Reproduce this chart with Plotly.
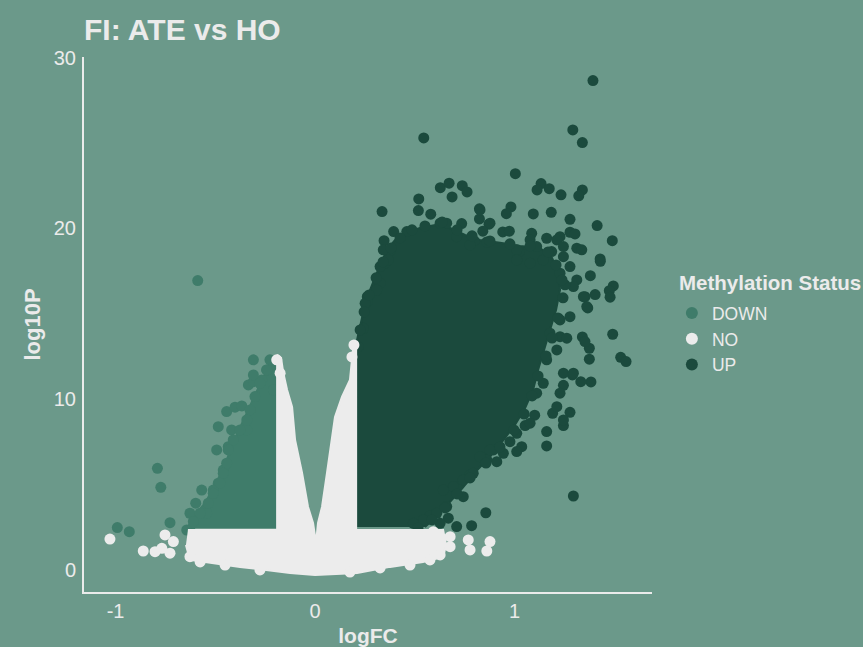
import plotly.graph_objects as go

# ---------------- data (data units) ----------------
# Individual UP points (logFC, log10P)
up_x = [1.393, 1.292, 1.340, 0.545, 1.004, 1.133, 1.174, 1.113, 1.233, 1.340, 1.322, 0.628, 0.672,
        0.738, 0.762, 0.687, 0.520, 0.518, 0.336, 0.824, 0.824, 0.982, 0.959, 1.094, 1.184, 1.278,
        1.414, 1.490, 0.735, 0.872, 0.841, 0.580, 0.394, 0.346, 0.376, 0.941, 0.974, 0.797, 0.861,
        1.086, 1.161, 1.228, 1.278, 1.303, 1.312, 1.337, 1.186, 1.429, 1.023, 1.430, 1.380, 1.495,
        1.475, 1.479, 1.404, 1.353, 1.367, 1.492, 1.532, 1.559, 1.375, 1.375, 1.340, 1.353, 1.383,
        1.332, 1.290, 1.245, 1.228, 1.278, 1.245, 1.191, 1.161, 1.161, 1.295, 1.101, 1.053, 1.036,
        1.011, 0.977, 0.911, 0.861, 0.827, 0.856, 0.785, 0.777, 0.743, 0.693, 0.643, 0.668, 0.576,
        0.627, 0.351, 0.326, 0.262, 0.262, 0.242, 0.894,
        1.245, 1.278, 1.228, 1.312, 1.295, 1.253, 1.362, 1.345, 1.278, 1.228, 1.178, 1.228, 1.262,
        1.212, 1.161, 1.245, 1.295, 1.144, 1.111, 1.212, 1.245, 1.078, 1.011, 0.944, 0.877, 0.793,
        0.743, 0.660, 0.610, 0.543, 0.493, 0.710, 0.460, 0.627, 0.660, 0.710, 0.777, 0.827, 0.877,
        1.011, 1.078, 1.111, 1.212, 1.245, 1.144, 1.078, 1.011, 0.309, 0.251, 0.217, 0.342, 0.367,
        0.326,
        0.226, 0.246, 0.271, 0.306, 0.341, 0.381, 0.426, 0.486, 0.551, 0.637, 0.712, 0.787, 0.877,
        0.977, 1.078, 1.168, 1.208, 1.238, 1.243, 1.218, 1.188, 1.158, 1.118, 1.088, 1.048, 0.997,
        0.927, 0.857, 0.777, 0.712, 0.652, 0.586, 0.516]
up_y = [28.65, 25.76, 25.02, 25.29, 23.20, 22.62, 22.32, 22.25, 21.96, 22.25, 21.90, 22.38, 22.64,
        22.50, 22.13, 21.84, 21.72, 21.04, 20.98, 21.14, 20.55, 21.25, 20.86, 20.84, 20.94, 20.53,
        20.16, 19.28, 20.28, 20.24, 19.83, 20.83, 19.81, 19.28, 18.68, 19.79, 19.83, 19.28, 19.20,
        19.71, 19.42, 19.51, 19.77, 19.67, 18.84, 18.74, 18.64, 18.21, 18.64, 18.07, 17.23, 16.63,
        16.35, 15.97, 16.12, 16.00, 15.34, 13.80, 12.45, 12.20, 12.34, 12.98, 13.64, 13.37, 11.01,
        11.02, 11.42, 10.81, 10.35, 9.23, 8.45, 9.17, 8.10, 7.26, 4.33, 9.06, 8.45, 7.22,
        6.93, 7.51, 6.34, 6.44, 6.63, 3.35, 2.59, 5.56, 4.29, 4.88, 4.68, 3.03, 3.16,
        2.73, 17.96, 16.79, 16.00, 15.71, 14.15, 7.03,
        18.34, 17.76, 17.37, 16.98, 16.59, 16.69, 15.42, 16.00, 14.83, 14.64, 13.86, 13.66, 13.57,
        12.88, 12.30, 11.52, 11.52, 10.93, 10.35, 9.56, 8.78, 8.59, 8.00, 6.83, 7.03, 5.66,
        5.27, 3.71, 3.32, 2.93, 2.73, 2.54, 19.81, 20.30, 20.30, 19.51, 19.03, 21.08, 20.30,
        18.74, 19.32, 18.93, 19.32, 18.93, 18.15, 17.96, 18.15, 16.39, 15.61, 13.07, 18.74, 18.15,
        17.76,
        14.05, 15.11, 16.10, 17.10, 18.03, 18.85, 19.44, 19.91, 20.14, 20.37, 19.91, 19.56, 19.26,
        19.09, 18.97, 18.62, 17.86, 16.98, 15.93, 14.75, 13.58, 12.53, 11.36, 10.19, 9.13, 8.20,
        7.20, 6.26, 5.39, 4.45, 3.63, 2.93, 2.46]

# Outline of the densely packed UP cloud
up_core_x = [0.200, 0.200, 0.216, 0.236, 0.256, 0.286, 0.326, 0.361, 0.401, 0.451, 0.526, 0.602,
             0.677, 0.752, 0.827, 0.927, 1.028, 1.128, 1.188, 1.218, 1.228, 1.208, 1.178, 1.148,
             1.118, 1.093, 1.053, 1.005, 0.945, 0.880, 0.805, 0.740, 0.677, 0.617, 0.551]
up_core_y = [2.52, 12.88, 13.76, 14.75, 15.81, 16.69, 17.86, 18.74, 19.32, 19.73, 20.02, 20.20,
             20.02, 19.61, 19.32, 19.15, 18.97, 18.85, 18.27, 17.45, 16.39, 15.22, 14.05, 12.88,
             11.71, 10.54, 9.48, 8.55, 7.61, 6.67, 5.74, 4.80, 3.98, 3.22, 2.52]

# Individual DOWN points
down_x = [-0.309, -0.226, -0.334, -0.309, -0.267, -0.443, -0.401, -0.367, -0.485, -0.493, -0.418,
          -0.342, -0.790, -0.773, -0.568, -0.485, -0.598, -0.627, -0.543, -0.727, -0.991, -0.931,
          -0.627, -0.588, -0.460, -0.510, -0.435, -0.309, -0.242, -0.209,
          -0.242, -0.276, -0.301, -0.326, -0.342, -0.376, -0.410, -0.435, -0.443, -0.460, -0.476,
          -0.510, -0.535, -0.576, -0.610, -0.643]
down_y = [12.30, 12.30, 10.83, 11.02, 11.12, 9.27, 9.53, 9.60, 8.39, 7.03, 8.20,
          8.20, 5.95, 4.84, 4.68, 5.08, 3.91, 3.32, 3.32, 2.77, 2.48, 2.24,
          2.34, 16.94, 5.85, 4.68, 7.22, 11.42, 11.71, 10.54,
          11.71, 10.93, 10.15, 9.37, 8.78, 8.20, 7.61, 7.03, 6.25, 5.66, 5.08,
          4.49, 3.91, 3.32, 2.83, 2.34]

# Outline of the densely packed DOWN cloud
down_core_x = [-0.190, -0.236, -0.266, -0.301, -0.336, -0.376, -0.416, -0.451, -0.501, -0.551,
               -0.602, -0.637, -0.190]
down_core_y = [12.59, 11.83, 11.12, 10.25, 9.37, 8.31, 7.32, 6.15, 4.98, 3.92, 3.22, 2.52, 2.52]

# Individual NO points
no_x = [-1.028, -0.861, -0.802, -0.752, -0.710, -0.727, -0.768, 0.768, 0.777, 0.877, 0.861, 0.677,
        0.677, 0.593, -0.627, -0.192, -0.175, 0.195, 0.185, -0.576, -0.451, -0.276, 0.175, 0.326,
        0.476, 0.576, 0.627]
no_y = [1.81, 1.11, 1.07, 2.05, 1.66, 0.98, 1.27, 1.76, 1.17, 1.66, 1.11, 1.95,
        1.36, 2.24, 0.78, 12.30, 11.52, 13.17, 12.47, 0.47, 0.29, 0.00, -0.12, 0.12,
        0.29, 0.59, 0.88]

# Outline of the densely packed NO band with its two spikes
no_core_x = [-0.637, -0.190, -0.190, -0.170, -0.160, -0.140, -0.115, -0.100, -0.065, -0.035, -0.010,
             0.005, 0.015, 0.035, 0.060, 0.085, 0.100, 0.135, 0.175, 0.185, 0.195, 0.206, 0.206,
             0.642, 0.657, 0.642, 0.541, 0.376, 0.211, 0.000, -0.125, -0.376, -0.526, -0.627, -0.647]
no_core_y = [2.34, 2.34, 12.59, 12.41, 11.59, 10.54, 9.54, 7.61, 5.68, 3.69, 2.75,
             1.58, 2.75, 3.69, 5.68, 7.61, 8.96, 10.13, 11.12, 12.30, 13.35, 13.35, 2.34,
             2.34, 1.46, 0.76, 0.47, 0.18, -0.18, -0.29, -0.18, 0.18, 0.41, 0.59, 1.46]

x_ticks = [-1, 0, 1]
y_ticks = [0, 10, 20, 30]

# ---------------- styling ----------------
BG = "#6b998a"
TXT = "#ebebeb"
C_DOWN = "#3f7c6a"
C_NO = "#ececec"
C_UP = "#1b4a3d"
FONT = "Liberation Sans, Arial, sans-serif"
MS = 11

fig = go.Figure()


def add_core(xs, ys, color):
    fig.add_trace(go.Scatter(x=xs, y=ys, mode="lines", fill="toself", fillcolor=color,
                             line=dict(color=color, width=2), hoverinfo="skip", showlegend=False))


def add_pts(xs, ys, color, name, rank):
    fig.add_trace(go.Scatter(x=xs, y=ys, mode="markers", name=name, legendrank=rank,
                             marker=dict(color=color, size=MS, line=dict(width=0))))


add_core(down_core_x, down_core_y, C_DOWN)
add_pts(down_x, down_y, C_DOWN, "DOWN", 1)
add_core(up_core_x, up_core_y, C_UP)
add_pts(up_x, up_y, C_UP, "UP", 3)
add_core(no_core_x, no_core_y, C_NO)
add_pts(no_x, no_y, C_NO, "NO", 2)

fig.update_layout(
    template="none",
    width=863, height=647,
    paper_bgcolor=BG, plot_bgcolor=BG,
    margin=dict(l=84, r=211, t=57, b=55, autoexpand=False),
    font=dict(family=FONT, color=TXT),
    title=dict(text="<b>FI: ATE vs HO</b>", font=dict(size=30, color=TXT, family=FONT),
               x=84 / 863, xref="container", xanchor="left",
               y=1 - 29 / 647, yref="container", yanchor="middle"),
    showlegend=True,
    legend=dict(font=dict(size=17.5, color=TXT),
                x=1.035, xanchor="left", y=0.555, yanchor="top",
                bgcolor="rgba(0,0,0,0)", borderwidth=0, itemsizing="constant"),
    annotations=[dict(text="<b>Methylation Status</b>", xref="paper", yref="paper",
                      x=(677 - 84) / 568, y=(592 - 282) / 535, xanchor="left", yanchor="middle",
                      showarrow=False, font=dict(size=20.5, color=TXT, family=FONT))],
    xaxis=dict(range=[-1.158, 1.689], showgrid=False, zeroline=False, showline=True,
               linecolor=TXT, linewidth=2, tickmode="array", tickvals=x_ticks,
               ticktext=[str(v) for v in x_ticks], ticks="outside", ticklen=0,
               tickcolor="rgba(0,0,0,0)", tickfont=dict(size=20, color=TXT),
               title=dict(text="<b>logFC</b>", font=dict(size=21, color=TXT), standoff=9),
               automargin=False),
    yaxis=dict(range=[-1.29, 30.03], showgrid=False, zeroline=False, showline=True,
               linecolor=TXT, linewidth=2, tickmode="array", tickvals=y_ticks,
               ticktext=[str(v) for v in y_ticks], ticks="outside", ticklen=2,
               tickcolor="rgba(0,0,0,0)", tickfont=dict(size=20, color=TXT),
               title=dict(text="<b>log10P</b>", font=dict(size=22, color=TXT), standoff=7),
               automargin=False),
)

fig.write_html(
    "out.html",
    config={"displayModeBar": False},
    post_script=("document.documentElement.style.margin='0';"
                 "document.body.style.margin='0';"
                 "document.body.style.overflow='hidden';"
                 "document.body.style.background='" + BG + "';"),
)
